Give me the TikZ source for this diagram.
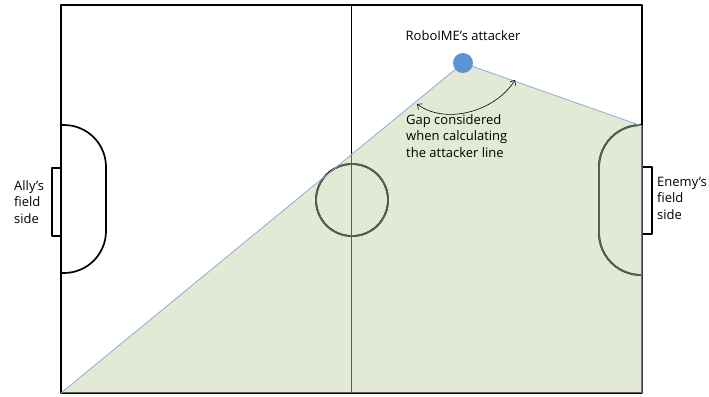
\documentclass[tikz,border=0pt]{standalone}
\usepackage{fontspec}
\setmainfont{Open Sans}
\usepackage{tikz}
\usetikzlibrary{arrows.meta, calc}
\definecolor{gapgreen}{HTML}{E2EAD6}
\definecolor{gapedge}{HTML}{8EAADB}
\definecolor{linegray}{HTML}{585F4C}
\definecolor{robotblue}{HTML}{5B93D3}
\tikzset{
  fieldline/.style={line width=1.7pt, line join=round},
  label/.style={font=\fontsize{13}{16.5}\selectfont, align=left, inner sep=0pt}
}

\begin{document}
\begin{tikzpicture}[x=1pt, y=-1pt]
\useasboundingbox (0,0) rectangle (709,396);

% Corners of the field
\coordinate (tl) at (61,5);
\coordinate (tr) at (642,5);
\coordinate (bl) at (61,393);
\coordinate (br) at (642,393);
\coordinate (attacker pos) at (463,63);
\coordinate (post) at (642,126);

% Gap area
\fill[gapgreen] (bl) -- (attacker pos) -- (post) -- (br) -- cycle;

% Field lines
\def\fieldlines{
  \draw (tl) rectangle (br);
  \draw ($(tl)!0.5!(tr)$) -- ($(bl)!0.5!(br)$);
  \draw (352,200) circle (36);
  \draw[rounded corners=42pt] (61,125) -- (106,125) -- (106,273) -- (61,273);
  \draw[rounded corners=42pt] (642,125) -- (599,125) -- (599,275) -- (642,275);
  \draw (52,168) rectangle (61,236);
  \draw (642,167) rectangle (652,234);
}
\begin{scope}[fieldline, black]
\fieldlines
\end{scope}
\begin{scope}
\clip (bl) -- (attacker pos) -- (post) -- (br) -- cycle;
\begin{scope}[fieldline, linegray]
\fieldlines
\end{scope}
\end{scope}

% Edge of the gap
\draw[gapedge, line width=0.8pt] (bl) -- (attacker pos) -- (post) -- (br);

% Attacker
\node[circle, fill=robotblue, minimum size=20pt, inner sep=0pt] (attacker) at (attacker pos) {};
\node[label, anchor=center] (attacker text) at (463,36) {RoboIME's attacker};

% Gap arrow
\coordinate (gap start) at (417,104);
\coordinate (gap end) at (515,80);
\draw[{Straight Barb[length=4pt,width=7pt]}-{Straight Barb[length=4pt,width=7pt]}, line width=0.6pt]
  (gap start) .. controls (445,125) and (495,112) .. (gap end);
\node[label, anchor=north west] (gap text) at (406,114) {Gap considered\\when calculating\\the attacker line};

% Sides
\node[label, anchor=north west] (ally) at (14,180) {Ally's\\field\\side};
\node[label, anchor=north west] (enemy) at (657,177) {Enemy's\\field\\side};

\end{tikzpicture}
\end{document}
